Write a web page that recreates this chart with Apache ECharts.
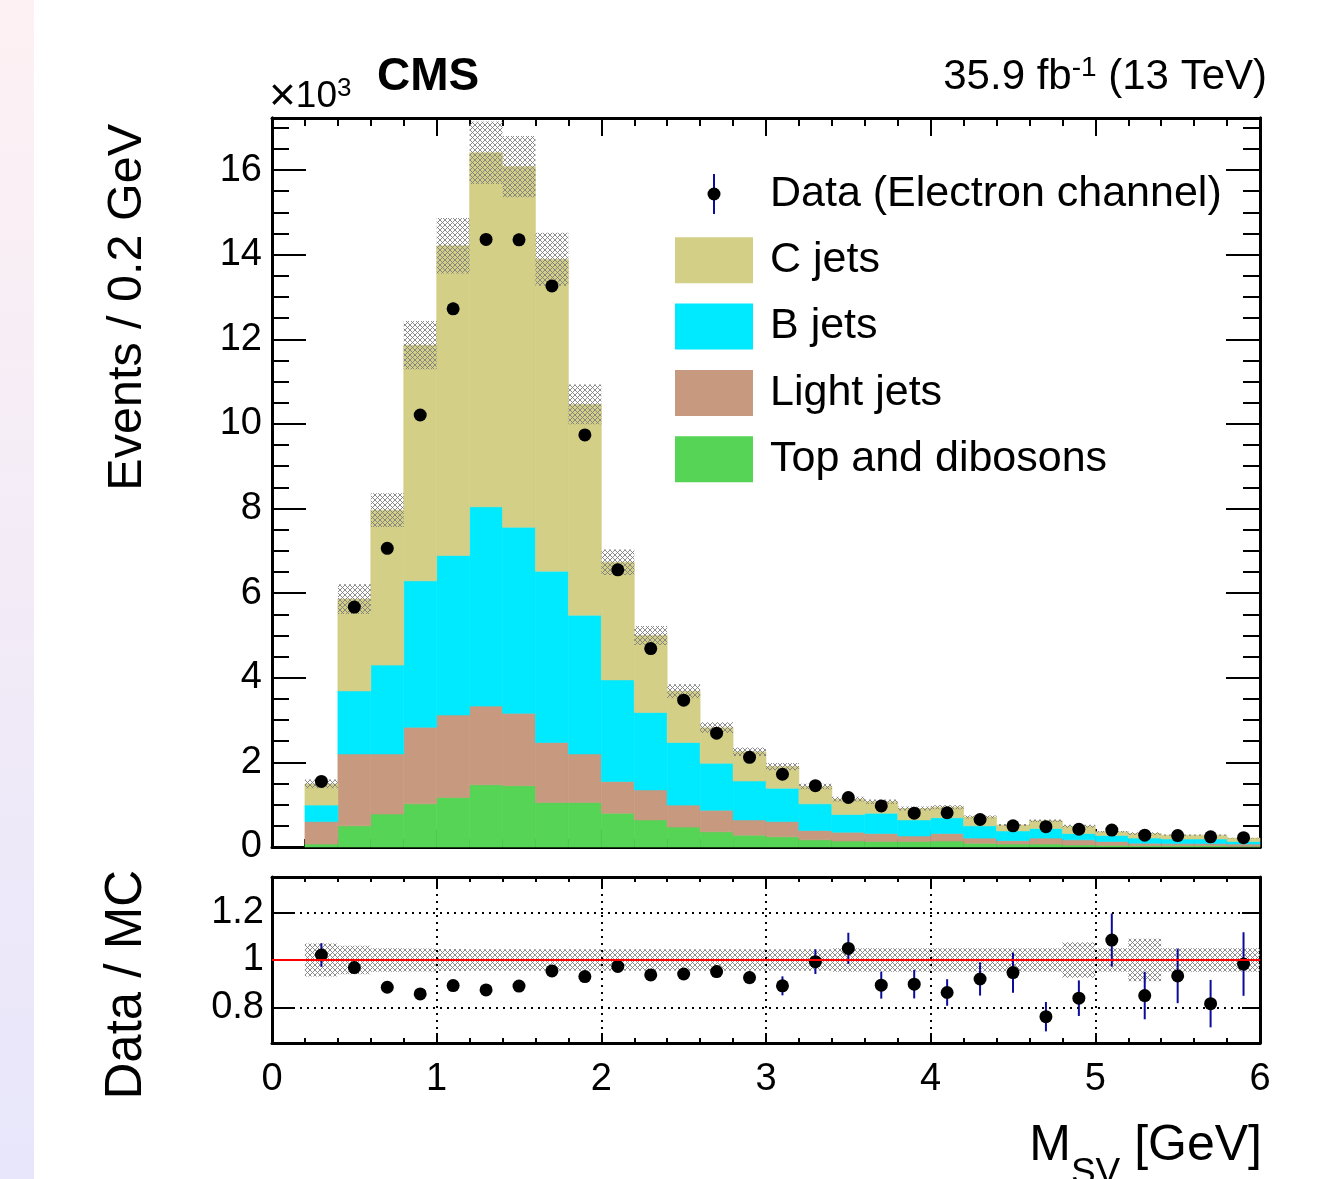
<!DOCTYPE html>
<html><head><meta charset="utf-8">
<script src="https://cdn.jsdelivr.net/npm/echarts@6/dist/echarts.min.js"></script>
<style>html,body{margin:0;padding:0;background:#fff;}#c{width:1324px;height:1179px;}</style>
</head><body><div id="c"></div>
<script>
// ---------- data (x10^3 events per 0.2 GeV bin) ----------
const binLow = [0.2,0.4,0.6,0.8,1.0,1.2,1.4,1.6,1.8,2.0,2.2,2.4,2.6,2.8,3.0,3.2,3.4,3.6,3.8,4.0,4.2,4.4,4.6,4.8,5.0,5.2,5.4,5.6,5.8];
const binWidth = 0.2;
const topDiboson = [0.07,0.50,0.78,1.02,1.17,1.47,1.45,1.05,1.05,0.80,0.64,0.47,0.36,0.28,0.24,0.17,0.14,0.13,0.13,0.14,0.09,0.07,0.07,0.05,0.04,0.03,0.03,0.03,0.02];
const lightJets  = [0.53,1.70,1.42,1.81,1.95,1.86,1.71,1.42,1.15,0.75,0.71,0.52,0.51,0.36,0.36,0.22,0.21,0.19,0.13,0.18,0.12,0.08,0.14,0.12,0.09,0.06,0.05,0.05,0.05];
const bJets      = [0.39,1.49,2.10,3.46,3.77,4.71,4.40,4.05,3.28,2.40,1.83,1.48,1.11,0.92,0.79,0.63,0.42,0.48,0.38,0.37,0.29,0.23,0.23,0.15,0.14,0.12,0.11,0.11,0.06];
const cJets      = [0.50,2.17,3.66,5.57,7.32,8.37,8.52,7.37,4.98,2.78,1.82,1.21,0.84,0.69,0.51,0.41,0.36,0.27,0.27,0.25,0.21,0.14,0.18,0.17,0.09,0.11,0.09,0.09,0.08];
const mcRelErr   = [0.07,0.06,0.05,0.048,0.046,0.045,0.045,0.045,0.045,0.045,0.045,0.045,0.045,0.045,0.045,0.045,0.05,0.05,0.05,0.05,0.05,0.05,0.05,0.075,0.05,0.09,0.05,0.05,0.05];
const dataEvents = [1.55,5.67,7.06,10.21,12.72,14.36,14.35,13.26,9.74,6.55,4.69,3.47,2.69,2.12,1.72,1.45,1.17,0.97,0.80,0.81,0.65,0.50,0.48,0.42,0.40,0.28,0.27,0.24,0.22];
const ratioValues = [1.021,0.968,0.885,0.857,0.892,0.874,0.890,0.954,0.930,0.973,0.937,0.941,0.951,0.926,0.891,0.993,1.049,0.894,0.898,0.863,0.920,0.947,0.761,0.839,1.084,0.850,0.933,0.816,0.983];
const ratioErr    = [0.05,0.012,0.012,0.01,0.01,0.009,0.009,0.01,0.012,0.015,0.018,0.022,0.025,0.028,0.04,0.052,0.066,0.057,0.06,0.056,0.07,0.085,0.062,0.075,0.112,0.1,0.115,0.1,0.134];
const ratioTicks = [0.8, 1, 1.2];
const ratioGridX = [1, 2, 3, 4, 5];

// ---------- style ----------
const FONT = '"Liberation Sans", Arial, Helvetica, sans-serif';
const COL = {c:'#d3cf87', b:'#00eaff', light:'#c7997e', top:'#56d456', err:'#0b0b9c'};

function makeHatch(){
  const c=document.createElement('canvas'); c.width=5; c.height=5;
  const g=c.getContext('2d'); g.strokeStyle='rgba(125,125,125,0.88)'; g.lineWidth=1;
  g.beginPath(); g.moveTo(0,0); g.lineTo(5,5); g.moveTo(5,0); g.lineTo(0,5); g.stroke();
  return c;
}
const hatch = {image: makeHatch(), repeat:'repeat'};

// ---------- build stacked tables ----------
const comps = [topDiboson, lightJets, bJets, cJets];
const base = binLow.map(()=>0);
const stackData = comps.map(arr => arr.map((v,i)=>{ const lo=base[i]; base[i]=lo+v; return [binLow[i], binLow[i]+binWidth, lo, base[i]]; }));
const mcTotal = base.slice();
const mcBand = mcTotal.map((t,i)=>[binLow[i], binLow[i]+binWidth, t*(1-mcRelErr[i]), t*(1+mcRelErr[i])]);
const ratioBand = mcRelErr.map((e,i)=>[binLow[i], binLow[i]+binWidth, 1-e, 1+e]);
const centers = binLow.map(x=>x+binWidth/2);
const dataPts = dataEvents.map((v,i)=>[centers[i], v]);
const dataErrBars = dataEvents.map((v,i)=>[centers[i], v-ratioErr[i]*mcTotal[i], v+ratioErr[i]*mcTotal[i]]);
const ratioPts = ratioValues.map((v,i)=>[centers[i], v]);
const ratioErrBars = ratioValues.map((v,i)=>[centers[i], v-ratioErr[i], v+ratioErr[i]]);

function rectItem(params, api){
  const a=api.coord([api.value(0), api.value(3)]);
  const b=api.coord([api.value(1), api.value(2)]);
  const col=api.visual('color');
  return {type:'rect', shape:{x:a[0], y:a[1], width:b[0]-a[0], height:b[1]-a[1]}, style:{fill:col, stroke:col, lineWidth:0.6}};
}
function hatchItem(params, api){
  const a=api.coord([api.value(0), api.value(3)]);
  const b=api.coord([api.value(1), api.value(2)]);
  return {type:'rect', shape:{x:a[0], y:a[1], width:b[0]-a[0], height:b[1]-a[1]}, style:{fill:hatch}};
}
function errItem(params, api){
  const a=api.coord([api.value(0), api.value(1)]);
  const b=api.coord([api.value(0), api.value(2)]);
  return {type:'line', shape:{x1:a[0], y1:a[1], x2:b[0], y2:b[1]}, style:{stroke:COL.err, lineWidth:2}};
}

const axisLine = {show:true, onZero:false, lineStyle:{color:'#000', width:3}};
const noLabel = {show:false};
function xAx(grid, pos, labels, majLen, minLen){
  return {type:'value', gridIndex:grid, position:pos, min:0, max:6, interval:1,
    axisLine, splitLine:{show:false},
    axisTick:{show:true, inside:true, length:majLen, lineStyle:{color:'#000', width:2}},
    minorTick:{show:true, splitNumber:5, length:minLen, lineStyle:{color:'#000', width:2}},
    axisLabel: labels ? {show:true, margin:18, fontSize:38, fontFamily:FONT, color:'#000', showMinLabel:true, showMaxLabel:true} : noLabel};
}
function yMain(pos, interval, len, labels){
  return {type:'value', gridIndex:0, position:pos, min:0, max:17.23, interval,
    axisLine, splitLine:{show:false},
    axisTick:{show:true, inside:true, length:len, lineStyle:{color:'#000', width:2}},
    axisLabel: labels ? {show:true, margin:10, fontSize:38, fontFamily:FONT, color:'#000', showMaxLabel:false} : noLabel};
}
function yRatio(pos, len, labels){
  return {type:'value', gridIndex:1, position:pos, min:0.65, max:1.35,
    axisLine, splitLine:{show:false},
    axisTick:{show:true, inside:true, length:len, customValues:ratioTicks, lineStyle:{color:'#000', width:2}},
    axisLabel: labels ? {show:true, margin:8, fontSize:38, fontFamily:FONT, color:'#000', customValues:ratioTicks} : noLabel};
}

const dataIcon = 'image://data:image/svg+xml;utf8,' + encodeURIComponent(
 "<svg xmlns='http://www.w3.org/2000/svg' width='78' height='46' viewBox='0 0 78 46'><line x1='39' y1='3' x2='39' y2='43' stroke='#0b0b9c' stroke-width='2'/><circle cx='39' cy='23' r='6.5' fill='#000'/></svg>");

const seriesNames = ['Top and dibosons','Light jets','B jets','C jets'];
const seriesCols = [COL.top, COL.light, COL.b, COL.c];

const series = [];
stackData.forEach((d,k)=>{
  series.push({type:'custom', name:seriesNames[k], xAxisIndex:0, yAxisIndex:0, renderItem:rectItem,
    itemStyle:{color:seriesCols[k]}, encode:{x:[0,1], y:[2,3]}, data:d, silent:true});
});
series.push({type:'custom', name:'MC unc', xAxisIndex:0, yAxisIndex:0, renderItem:hatchItem, encode:{x:[0,1], y:[2,3]}, data:mcBand, silent:true});
series.push({type:'custom', name:'dataErr', xAxisIndex:0, yAxisIndex:0, renderItem:errItem, encode:{x:0, y:[1,2]}, data:dataErrBars, silent:true});
series.push({type:'scatter', name:'Data (Electron channel)', xAxisIndex:0, yAxisIndex:0, symbol:'circle', symbolSize:13,
  itemStyle:{color:'#000', opacity:1}, data:dataPts, silent:true});
// ratio panel
series.push({type:'custom', name:'ratio unc', xAxisIndex:2, yAxisIndex:4, renderItem:hatchItem, encode:{x:[0,1], y:[2,3]}, data:ratioBand, silent:true,
  markLine:{silent:true, symbol:'none', label:{show:false},
    data: ratioTicks.filter(v=>v!==1).map(v=>({yAxis:v, lineStyle:{type:[2,5], color:'#000', width:2}}))
      .concat(ratioGridX.map(v=>({xAxis:v, lineStyle:{type:[2,5], color:'#000', width:2}})))
      .concat([{yAxis:1, lineStyle:{type:'solid', color:'#ff0000', width:2}}])}});
series.push({type:'custom', name:'ratioErr', xAxisIndex:2, yAxisIndex:4, renderItem:errItem, encode:{x:0, y:[1,2]}, data:ratioErrBars, silent:true});
series.push({type:'scatter', name:'ratio', xAxisIndex:2, yAxisIndex:4, symbol:'circle', symbolSize:13, itemStyle:{color:'#000', opacity:1}, data:ratioPts, silent:true});

const option = {
  animation:false,
  backgroundColor:'#fff',
  grid:[
    {left:272, top:118, width:988, height:729, outerBoundsMode:'none'},
    {left:272, top:877, width:988, height:166, outerBoundsMode:'none'}
  ],
  xAxis:[ xAx(0,'bottom',false,18,8), xAx(0,'top',false,18,8), xAx(1,'bottom',true,10,5), xAx(1,'top',false,10,5) ],
  yAxis:[ yMain('left',2,34,true), yMain('left',0.5,17,false), yMain('right',2,34,false), yMain('right',0.5,17,false),
          yRatio('left',21,true), yRatio('right',18,false) ],
  legend:{orient:'vertical', left:675, top:171, padding:0, itemWidth:78, itemHeight:46, itemGap:20.3, selectedMode:false,
    textStyle:{fontSize:43, fontFamily:FONT, color:'#000', padding:[0,0,0,12]},
    data:[{name:'Data (Electron channel)', icon:dataIcon}, {name:'C jets', icon:'rect'}, {name:'B jets', icon:'rect'},
          {name:'Light jets', icon:'rect'}, {name:'Top and dibosons', icon:'rect'}]},
  graphic:[
    {type:'rect', left:0, top:0, shape:{x:0,y:0,width:34,height:1179}, silent:true,
      style:{fill:{type:'linear', x:0,y:0,x2:0,y2:1, colorStops:[{offset:0,color:'#fdf1f3'},{offset:1,color:'#e8e6fb'}]}}},
    {type:'text', x:377, y:77, silent:true, style:{text:'CMS', font:'bold 46px '+FONT, fill:'#000', verticalAlign:'middle', textVerticalAlign:'middle'}},
    {type:'text', x:269, y:97, silent:true, style:{text:'{x|×}{a|10}{s|3}', fill:'#000', verticalAlign:'middle', textVerticalAlign:'middle',
      rich:{x:{fontSize:46, fontFamily:FONT, lineHeight:42}, a:{fontSize:37, fontFamily:FONT, lineHeight:42}, s:{fontSize:26, fontFamily:FONT, verticalAlign:'top', lineHeight:26}}}},
    {type:'text', x:1267, y:77, silent:true, style:{text:'{a|35.9 fb}{s|-1}{a| (13 TeV)}', fill:'#000', align:'right', textAlign:'right', verticalAlign:'middle', textVerticalAlign:'middle',
      rich:{a:{fontSize:42, fontFamily:FONT, lineHeight:46}, s:{fontSize:28, fontFamily:FONT, verticalAlign:'top', lineHeight:28}}}},
    {type:'text', x:128, y:124, rotation:Math.PI/2, silent:true, style:{text:'Events / 0.2 GeV', font:'48.5px '+FONT, fill:'#000', align:'right', textAlign:'right', verticalAlign:'middle', textVerticalAlign:'middle'}},
    {type:'text', x:127, y:870, rotation:Math.PI/2, silent:true, style:{text:'Data / MC', font:'51px '+FONT, fill:'#000', align:'right', textAlign:'right', verticalAlign:'middle', textVerticalAlign:'middle'}},
    {type:'text', x:1262, y:1146, silent:true, style:{text:'{a|M}{s|SV}{a| [GeV]}', fill:'#000', align:'right', textAlign:'right', verticalAlign:'middle', textVerticalAlign:'middle',
      rich:{a:{fontSize:50, fontFamily:FONT, lineHeight:92, verticalAlign:'middle'}, s:{fontSize:37, fontFamily:FONT, verticalAlign:'bottom', lineHeight:37}}}}
  ],
  series
};
const chart = echarts.init(document.getElementById('c'), null, {renderer:'canvas'});
chart.setOption(option);
</script></body></html>
